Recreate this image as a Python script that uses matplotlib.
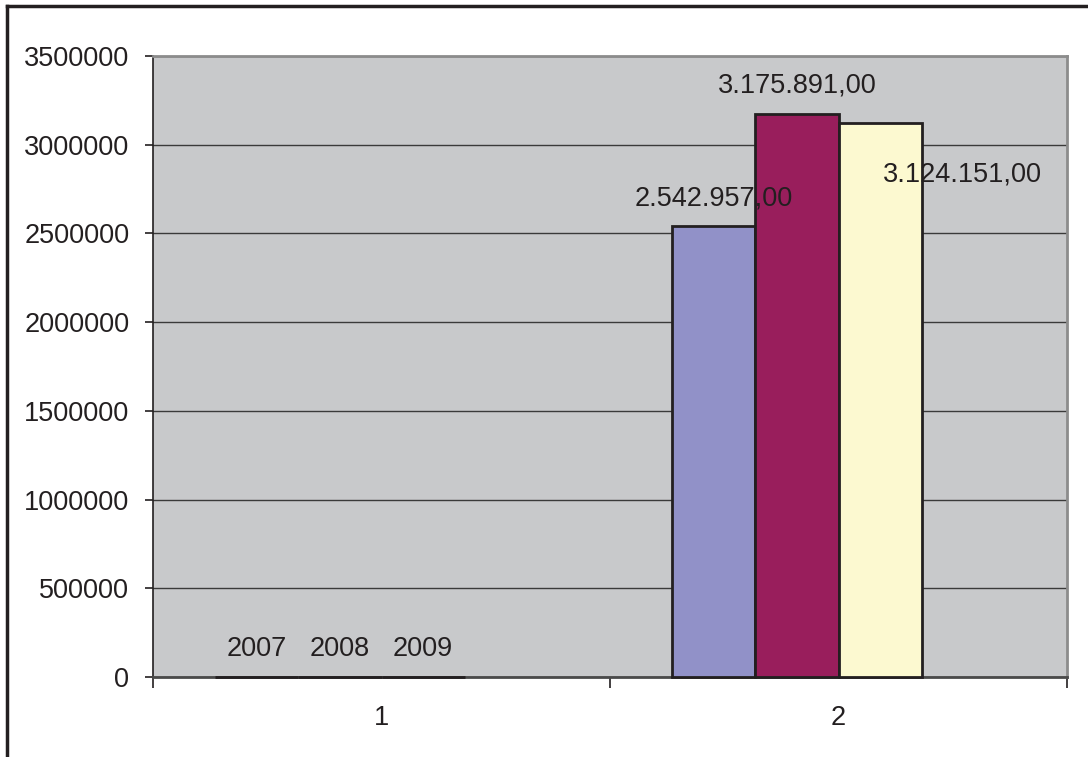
import matplotlib
matplotlib.use("Agg")
import matplotlib.pyplot as plt
from matplotlib.lines import Line2D

# ---- data ----
categories = ["1", "2"]
series_names = ["2007", "2008", "2009"]
series_values = [
    [2007, 2542957],
    [2008, 3175891],
    [2009, 3124151],
]
label_formats = ["plain", "euro"]   # per category
y_ticks = [0, 500000, 1000000, 1500000, 2000000, 2500000, 3000000, 3500000]

colors = ["#9191C8", "#991E5C", "#FCF9D0"]
n_slots = 4           # chart has room for four series, three are drawn
gap = 1.5

plt.rcParams["font.family"] = ["Liberation Sans", "DejaVu Sans"]
TXT = "#231F20"
FS = 19.5

fig = plt.figure(figsize=(10.88, 7.57), dpi=100)
ax = fig.add_axes([153/1088, 1 - 677/757, (1067-153)/1088, (677-56)/757])
ax.set_facecolor("#C8C9CB")

w = 1.0 / (n_slots + gap)
xs = list(range(len(categories)))

def fmt(v, kind):
    if kind == "plain":
        return f"{v:d}"
    s = f"{v:,.2f}"
    return s.replace(",", "X").replace(".", ",").replace("X", ".")

# special label offsets (points) for moved labels: (series, category) -> (dx, dy)
special = {(2, 1): (59, -37)}

for i, vals in enumerate(series_values):
    pos = [x + (i - (n_slots - 1) / 2) * w for x in xs]
    ax.bar(pos, vals, width=w, color=colors[i], edgecolor="#231F20",
           linewidth=2.0, zorder=3, clip_on=False)
    for j, (p, v) in enumerate(zip(pos, vals)):
        dx, dy = special.get((i, j), (0, 20))
        ax.annotate(fmt(v, label_formats[j]), (p, v), xytext=(dx, dy),
                    textcoords="offset points", ha="center", va="center",
                    fontsize=FS, color=TXT, zorder=5)

ax.set_xlim(-0.5, len(categories) - 0.5)
ax.set_ylim(0, 3500000)
ax.set_yticks(y_ticks)
ax.set_yticklabels([str(t) for t in y_ticks])
ax.yaxis.grid(True, color="#3A3A3A", linewidth=1.0, zorder=1)
ax.set_axisbelow(True)

ax.set_xticks([x - 0.5 for x in xs] + [len(categories) - 0.5])
ax.set_xticklabels([])
ax.set_xticks(xs, minor=True)
ax.set_xticklabels(categories, minor=True)
ax.tick_params(axis="x", which="major", length=8, width=1.2, color="#231F20", direction="out")
ax.tick_params(axis="x", which="minor", length=0, pad=20, labelsize=FS, labelcolor=TXT)
ax.tick_params(axis="y", length=6, width=1.2, color="#231F20", pad=11,
               labelsize=FS, labelcolor=TXT)

ax.spines["left"].set_color("#231F20")
ax.spines["left"].set_linewidth(1.2)
ax.spines["bottom"].set_color("#4A4A4A")
ax.spines["bottom"].set_linewidth(2.0)
ax.spines["top"].set_color("#8C8C8C")
ax.spines["top"].set_linewidth(2.0)
ax.spines["right"].set_color("#8C8C8C")
ax.spines["right"].set_linewidth(2.0)

# outer chart border (left and top visible)
W, H = 1088, 757
fig.add_artist(Line2D([7/W, 7/W], [0, 1 - 6/H], transform=fig.transFigure,
                      color="#231F20", linewidth=2.5))
fig.add_artist(Line2D([7/W, 1], [1 - 6/H, 1 - 6/H], transform=fig.transFigure,
                      color="#231F20", linewidth=2.5))

fig.savefig("out.png", dpi=100)
